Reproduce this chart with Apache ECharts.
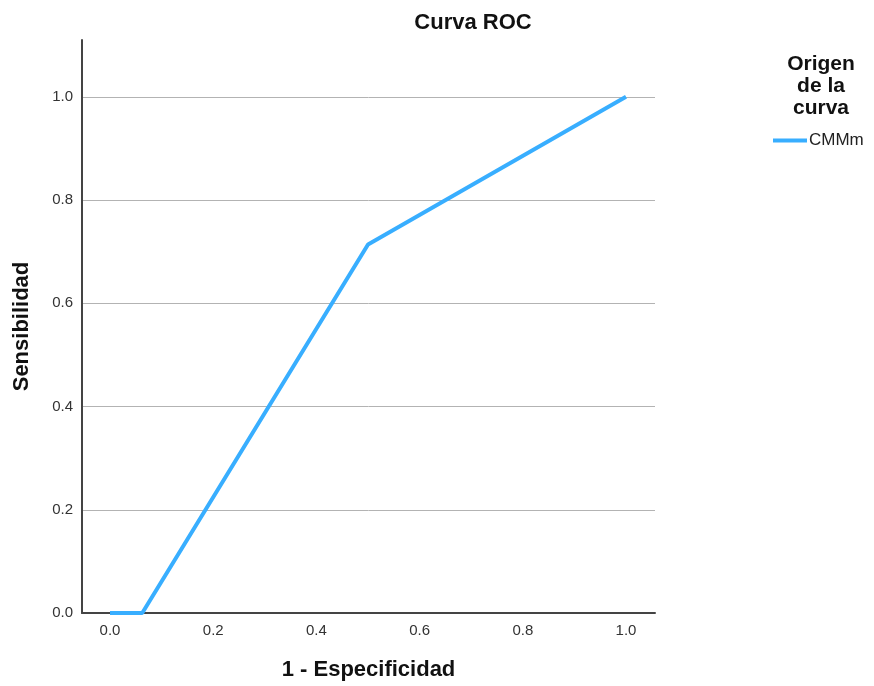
<!DOCTYPE html>
<html>
<head>
<meta charset="utf-8">
<script src="https://cdn.jsdelivr.net/npm/echarts@6/dist/echarts.min.js"></script>
<style>html,body{margin:0;padding:0;background:#fff}#c{width:874px;height:686px}</style>
</head>
<body>
<div id="c"></div>
<script>
var fpr = [0.0, 0.0625, 0.5, 1.0];
var tpr = [0.0, 0.0, 0.714, 1.0];
var tickValues = [0, 0.2, 0.4, 0.6, 0.8, 1.0];
var seriesName = 'CMMm';

var chart = echarts.init(document.getElementById('c'), null, {renderer: 'canvas'});
var font = 'Liberation Sans, Arial, sans-serif';
chart.setOption({
  animation: false,
  textStyle: {fontFamily: font},
  title: [
    {text: 'Curva ROC', left: 468, top: 7, textAlign: 'center',
     textStyle: {fontSize: 22, fontWeight: 'bold', color: '#111', fontFamily: font}},
    {text: 'Origen\nde la\ncurva', left: 816, top: 48, textAlign: 'center',
     textStyle: {fontSize: 21, fontWeight: 'bold', color: '#111', lineHeight: 22, fontFamily: font}}
  ],
  legend: {
    left: 768, top: 127, itemWidth: 34, itemHeight: 4, itemGap: 4,
    icon: 'rect',
    textStyle: {fontSize: 17, color: '#222', fontFamily: font, padding: [0,0,0,-3]},
    data: [seriesName]
  },
  grid: {left: 82, top: 40, width: 573, height: 574, containLabel: false},
  xAxis: {
    type: 'value', min: -0.0543, max: 1.0562,
    name: '1 - Especificidad', nameLocation: 'middle', nameGap: 46,
    nameTextStyle: {fontSize: 22, fontWeight: 'bold', color: '#111', fontFamily: font},
    axisLine: {show: true, onZero: false, lineStyle: {color: '#444', width: 2}},
    axisTick: {show: false, customValues: tickValues},
    axisLabel: {customValues: tickValues, fontSize: 15, color: '#333', margin: 10,
      formatter: function (v) { return v.toFixed(1); }},
    splitLine: {show: false}
  },
  yAxis: {
    type: 'value', min: 0, max: 1.11,
    name: 'Sensibilidad', nameLocation: 'middle', nameGap: 49, nameRotate: 90,
    nameTextStyle: {fontSize: 22, fontWeight: 'bold', color: '#111', fontFamily: font},
    axisLine: {show: true, onZero: false, lineStyle: {color: '#444', width: 2}},
    axisTick: {show: false, customValues: tickValues},
    axisLabel: {customValues: tickValues, fontSize: 15, color: '#333', margin: 9,
      formatter: function (v) { return v.toFixed(1); }},
    splitLine: {show: true, lineStyle: {color: '#b3b3b3', width: 1}}
  },
  series: [{
    name: seriesName, type: 'line',
    data: fpr.map(function (x, i) { return [x, tpr[i]]; }),
    showSymbol: false, symbol: 'none',
    lineStyle: {color: '#38AEFF', width: 4},
    itemStyle: {color: '#38AEFF'},
    z: 3
  }]
});
</script>
</body>
</html>
